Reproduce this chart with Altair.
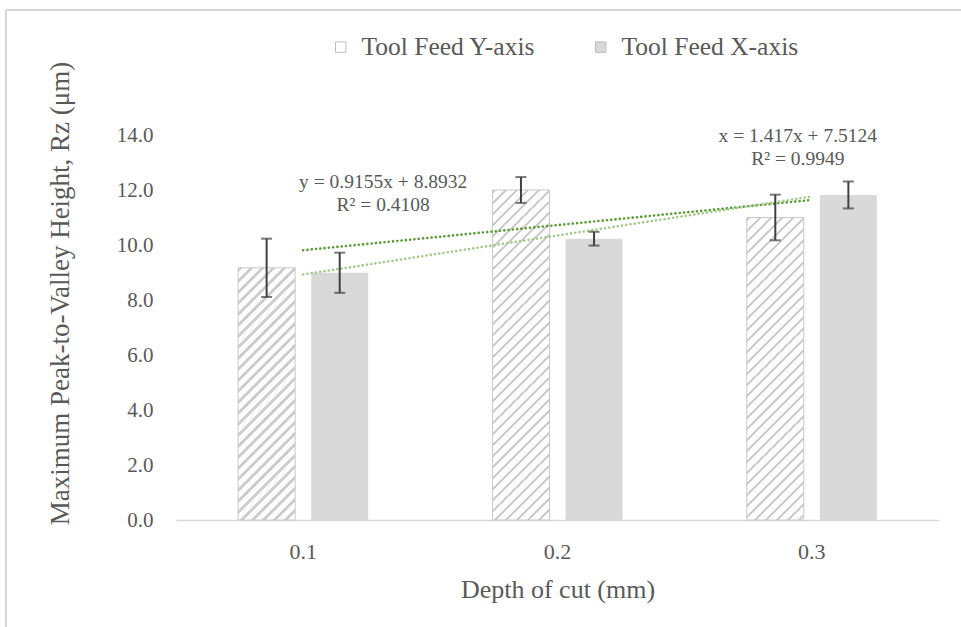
import altair as alt
import pandas as pd

# ---- data -------------------------------------------------------------
depths = ["0.1", "0.2", "0.3"]
series = ["Tool Feed Y-axis", "Tool Feed X-axis"]
rz_y_feed = [9.17, 12.00, 11.00]      # hatched bars
rz_x_feed = [8.99, 10.23, 11.82]      # solid grey bars
err_y_feed = [1.06, 0.47, 0.83]
err_x_feed = [0.73, 0.25, 0.49]
trend_slope = [0.9155, 1.417]
trend_intercept = [8.8932, 7.5124]
trend_text = [["y = 0.9155x + 8.8932", "R² = 0.4108"],
              ["x = 1.417x + 7.5124", "R² = 0.9949"]]
y_ticks = [0, 2, 4, 6, 8, 10, 12, 14]

# ---- layout / style ---------------------------------------------------
FONT = "Liberation Serif"
TXT = "#595959"
PLOT_W, PLOT_H, Y_MAX = 763, 385, 14
PAD_L, PAD_T = 176, 135
OFF_PAD_INNER, OFF_PAD_OUTER = 0.22, 0.85

bars = pd.DataFrame({
    "depth": depths * 2,
    "series": [series[0]] * 3 + [series[1]] * 3,
    "rz": rz_y_feed + rz_x_feed,
    "err": err_y_feed + err_x_feed,
})
bars["lo"] = bars["rz"] - bars["err"]
bars["hi"] = bars["rz"] + bars["err"]

# trendlines drawn from the stated equations (Excel x = category index 1..3)
trend_rows = []
for s, m, b in zip(series, trend_slope, trend_intercept):
    for idx in (1, 3):
        trend_rows.append({"depth": depths[idx - 1], "series": s, "fit": m * idx + b})
trend = pd.DataFrame(trend_rows)

x_enc = alt.X("depth:N", sort=depths,
              scale=alt.Scale(paddingInner=0, paddingOuter=0),
              axis=alt.Axis(title="Depth of cut (mm)", labelAngle=0, ticks=False,
                            grid=False, domainColor="#d9d9d9", domainWidth=1.5,
                            labelFont=FONT, labelFontSize=22, labelColor=TXT,
                            labelPadding=21, titleFont=FONT, titleFontSize=26,
                            titleFontWeight="normal", titleColor=TXT,
                            titleY=69, titleBaseline="middle"))
off_enc = alt.XOffset("series:N", sort=series,
                      scale=alt.Scale(paddingInner=OFF_PAD_INNER,
                                      paddingOuter=OFF_PAD_OUTER))
y_enc = alt.Y("rz:Q", scale=alt.Scale(domain=[0, Y_MAX], nice=False),
              axis=alt.Axis(values=y_ticks, format=".1f", domain=False, ticks=False,
                            grid=False, labelFont=FONT, labelFontSize=21,
                            labelColor=TXT, labelPadding=23,
                            title="Maximum Peak-to-Valley Height, Rz (μm)",
                            titleFont=FONT, titleFontSize=27, titleLimit=600,
                            titleFontWeight="normal", titleColor=TXT,
                            titleX=-116, titleY=158, titleAngle=-90,
                            titleAlign="center", titleBaseline="middle"))

base = alt.Chart(bars)

bar_layer = base.mark_bar(strokeWidth=0).encode(
    x=x_enc, xOffset=off_enc, y=y_enc,
    fill=alt.Fill("series:N", sort=series,
                  scale=alt.Scale(domain=series, range=["#ffffff", "#d9d9d9"]),
                  legend=alt.Legend(title=None, orient="none", direction="horizontal",
                                    legendX=152, legendY=-101, symbolType="square",
                                    symbolSize=110, symbolStrokeColor="#bfbfbf",
                                    symbolStrokeWidth=1, labelFont=FONT,
                                    labelFontSize=25.5, labelColor=TXT, labelLimit=400,
                                    labelOffset=8, columnPadding=52)),
)

# diagonal hatching for the Y-axis series: a hard-stop linear gradient per bar
step = PLOT_W / len(depths)
off_step = step / (2 - OFF_PAD_INNER + 2 * OFF_PAD_OUTER)
bar_w = off_step * (1 - OFF_PAD_INNER)


def hatch(value, period=11.0, line=3.4, color="#cdcdcd"):
    w = bar_w
    h = value * PLOT_H / Y_MAX
    span = w + h
    stops = []
    pos = 1.0
    while pos + line < span:
        a, b = pos / span, (pos + line) / span
        stops += [alt.GradientStop(color="#ffffff", offset=a),
                  alt.GradientStop(color=color, offset=a),
                  alt.GradientStop(color=color, offset=b),
                  alt.GradientStop(color="#ffffff", offset=b)]
        pos += period
    return alt.LinearGradient(
        gradient="linear", stops=stops, x1=0, y1=0,
        x2=span * w / (w * w + h * h), y2=span * h / (w * w + h * h))


hatch_layers = []
for d, v in zip(depths, rz_y_feed):
    hatch_layers.append(
        base.transform_filter(
            (alt.datum.depth == d) & (alt.datum.series == series[0])
        ).mark_bar(fill=hatch(v), stroke="#c8c8c8", strokeWidth=1).encode(
            x=x_enc, xOffset=off_enc, y=y_enc)
    )

err_rule = base.mark_rule(color="#404040", strokeWidth=2).encode(
    x=x_enc, xOffset=off_enc, y="lo:Q", y2="hi:Q")
cap_lo = base.mark_tick(color="#404040", size=11, thickness=2).encode(
    x=x_enc, xOffset=off_enc, y="lo:Q")
cap_hi = base.mark_tick(color="#404040", size=11, thickness=2).encode(
    x=x_enc, xOffset=off_enc, y="hi:Q")

trend_colors = ["#5e9a3a", "#a3c98a"]
trend_layers = [
    alt.Chart(trend).transform_filter(alt.datum.series == s).mark_line(
        color=c, strokeWidth=2.6, strokeDash=[0.1, 4.2], strokeCap="round"
    ).encode(x=alt.X("depth:N", sort=depths), y=alt.Y("fit:Q"))
    for s, c in zip(series, trend_colors)
]

dummy = alt.Chart(pd.DataFrame({"k": [0]}))
label_a = dummy.mark_text(font=FONT, fontSize=19.5, color=TXT, lineHeight=23,
                          baseline="top", align="center", dx=80).encode(
    x=alt.datum("0.1"), y=alt.value(38), text=alt.value(trend_text[0]))
label_b = dummy.mark_text(font=FONT, fontSize=19.5, color=TXT, lineHeight=23,
                          baseline="top", align="center", dx=-14).encode(
    x=alt.datum("0.3"), y=alt.value(-8), text=alt.value(trend_text[1]))

# light frame around the chart area (top and left edges)
frame_top = dummy.mark_rule(color="#d6d6d6", strokeWidth=2).encode(
    x=alt.value(6 - PAD_L), x2=alt.value(961 - PAD_L), y=alt.value(10 - PAD_T))
frame_left = dummy.mark_rule(color="#d6d6d6", strokeWidth=2).encode(
    x=alt.value(6 - PAD_L), y=alt.value(10 - PAD_T), y2=alt.value(627 - PAD_T))

chart = alt.layer(
    frame_top, frame_left, bar_layer, *hatch_layers, *trend_layers,
    err_rule, cap_lo, cap_hi, label_a, label_b,
).properties(
    width=PLOT_W, height=PLOT_H,
    autosize=alt.AutoSizeParams(type="none"),
    padding={"left": PAD_L, "top": PAD_T,
             "right": 961 - PAD_L - PLOT_W, "bottom": 627 - PAD_T - PLOT_H},
    background="#ffffff",
).configure_view(stroke=None)

chart.save("out.html", embed_options={"renderer": "svg", "actions": False})
